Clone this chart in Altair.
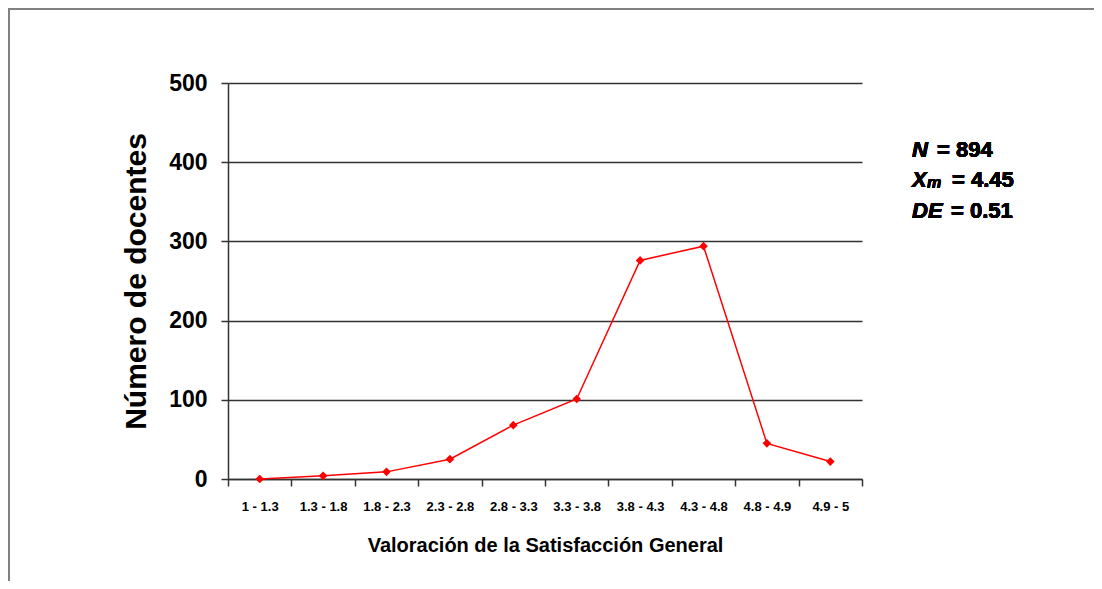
import altair as alt
import pandas as pd

categories = ["1 - 1.3", "1.3 - 1.8", "1.8 - 2.3", "2.3 - 2.8", "2.8 - 3.3",
              "3.3 - 3.8", "3.8 - 4.3", "4.3 - 4.8", "4.8 - 4.9", "4.9 - 5"]
counts = [0, 4, 9, 25, 68, 101, 276, 294, 45, 22]
y_ticks = [0, 100, 200, 300, 400, 500]

df = pd.DataFrame({"rango": categories, "n": counts})

W, H = 634, 396
PAD_L, PAD_T = 220, 75
TOTAL_W, TOTAL_H = 1086, 573

FONT = "Liberation Sans"

x_enc = alt.X("rango:N", sort=categories,
              scale=alt.Scale(paddingInner=0, paddingOuter=0),
              axis=alt.Axis(title="Valoración de la Satisfacción General",
                            labelAngle=0, tickBand="extent", tickSize=7,
                            tickColor="#333333", domainColor="#333333",
                            tickWidth=1.5, domainWidth=1.5,
                            labelFont=FONT, labelFontSize=13, labelFontWeight="bold",
                            labelColor="black", labelPadding=14,
                            titleFont=FONT, titleFontSize=20, titleFontWeight="bold",
                            titleColor="black", titlePadding=22, grid=False))
y_enc = alt.Y("n:Q", scale=alt.Scale(domain=[0, 500]),
              axis=alt.Axis(title="Número de docentes", values=y_ticks,
                            tickSize=7, tickColor="#333333", domainColor="#333333",
                            tickWidth=1.5, domainWidth=1.5,
                            labelFont=FONT, labelFontSize=23, labelFontWeight="bold",
                            labelColor="black", labelPadding=14,
                            titleFont=FONT, titleFontSize=30, titleFontWeight="bold",
                            titleColor="black", titlePadding=17,
                            grid=True, gridColor="#333333", gridWidth=1.5))

line = alt.Chart(df).mark_line(color="#FF0000", strokeWidth=1.5).encode(x=x_enc, y=y_enc)
pts = alt.Chart(df).mark_point(shape="diamond", filled=True, color="#FF0000",
                               size=75, opacity=1).encode(x="rango:N", y="n:Q")

# decorative frame (top and left border of the original picture)
frame_top = alt.Chart(df).mark_rule(color="#808080", strokeWidth=2).encode(
    x=alt.value(-PAD_L), x2=alt.value(TOTAL_W - PAD_L), y=alt.value(-PAD_T + 1))
frame_left = alt.Chart(df).mark_rule(color="#808080", strokeWidth=2).encode(
    x=alt.value(-PAD_L + 1), y=alt.value(-PAD_T), y2=alt.value(TOTAL_H - PAD_T))

# annotation
ax = 684
lines_y = [67, 97, 128]
ann = []
def txt(s, x, y, italic=False, size=22):
    return alt.Chart(df).mark_text(text=s, font=FONT, fontSize=size, fontWeight="bold",
                                   fontStyle="italic" if italic else "normal",
                                   align="left", baseline="middle", color="black").encode(
        x=alt.value(x), y=alt.value(y))

ann += [txt("N", ax, lines_y[0], True), txt("= 894", ax + 25, lines_y[0])]
ann += [txt("X", ax, lines_y[1], True), txt("m", ax + 15, lines_y[1] + 3, True, 16),
        txt("= 4.45", ax + 40, lines_y[1])]
ann += [txt("DE", ax, lines_y[2], True), txt("= 0.51", ax + 39, lines_y[2])]

chart = alt.layer(line, pts, frame_top, frame_left, *ann).properties(
    width=W, height=H,
    autosize=alt.AutoSizeParams(type="none"),
    padding={"left": PAD_L, "top": PAD_T, "right": TOTAL_W - PAD_L - W,
             "bottom": TOTAL_H - PAD_T - H},
    background="white"
).configure_view(stroke=None)

chart.save("out.html", embed_options={"renderer": "svg", "actions": False})
